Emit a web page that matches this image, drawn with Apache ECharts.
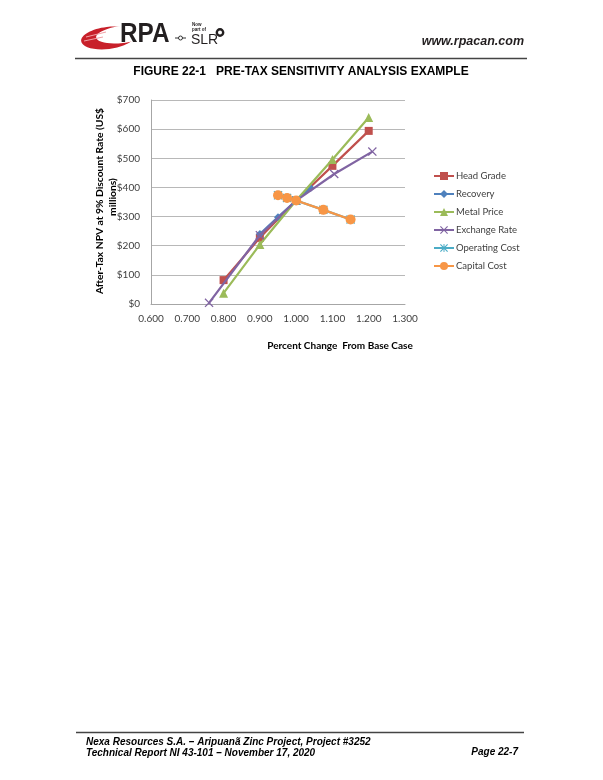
<!DOCTYPE html>
<html><head><meta charset="utf-8">
<script src="https://cdn.jsdelivr.net/npm/echarts@6/dist/echarts.min.js"></script>
<style>html,body{margin:0;padding:0;background:#fff}#c{width:603px;height:780px}</style>
</head><body><div id="c"></div>
<script>
const seriesNames = ['Head Grade','Recovery','Metal Price','Exchange Rate','Operating Cost','Capital Cost'];
const headGrade = [[0.8,82],[0.9,227],[1.0,355],[1.1,474],[1.2,594]];
const recovery = [[0.9,240],[0.95,298],[1.0,355],[1.04,398]];
const metalPrice = [[0.8,37],[0.9,204],[1.0,355],[1.1,496],[1.2,640]];
const exchangeRate = [[0.76,4],[0.9,236],[1.0,355],[1.105,446],[1.21,523]];
const operatingCost = [[0.95,373],[0.975,364],[1.0,355],[1.075,323],[1.15,290]];
const capitalCost = [[0.95,373],[0.975,364],[1.0,355],[1.075,323],[1.15,290]];
const xTicks = {min:0.6,max:1.3,step:0.1};
const yTicks = {min:0,max:700,step:100};

const colors = ['#C0504D','#4F81BD','#9BBB59','#8064A2','#4BACC6','#F79646'];
const xSym = 'path://M1,0 L5,4 L9,0 L10,1 L6,5 L10,9 L9,10 L5,6 L1,10 L0,9 L4,5 L0,1 Z';
const astSym = 'path://M1,0 L5,4 L9,0 L10,1 L6,5 L10,9 L9,10 L5,6 L1,10 L0,9 L4,5 L0,1 Z M4.4,0 L5.6,0 L5.6,10 L4.4,10 Z';
const datas = [headGrade,recovery,metalPrice,exchangeRate,operatingCost,capitalCost];
const syms = ['rect','diamond','triangle',xSym,astSym,'circle'];
const symSizes = [8,8,9,9,9,10];
const font = 'Lato, "Open Sans", sans-serif';
const arial = '"Liberation Sans", Arial, sans-serif';

const chart = echarts.init(document.getElementById('c'));
chart.setOption({
  animation:false,
  color: colors,
  grid:{left:151,right:198,top:100,bottom:476,containLabel:false},
  xAxis:{type:'value',min:xTicks.min,max:xTicks.max,interval:xTicks.step,
    axisLine:{show:true,lineStyle:{color:'#a6a6a6'}},axisTick:{show:false},
    splitLine:{show:false},
    axisLabel:{formatter:v=>v.toFixed(3),color:'#404040',fontSize:10,fontFamily:font,margin:10}},
  yAxis:{type:'value',min:yTicks.min,max:yTicks.max,interval:yTicks.step,
    axisLine:{show:true,lineStyle:{color:'#a6a6a6'}},axisTick:{show:false},
    splitLine:{show:true,lineStyle:{color:'#b8b8b8',width:1}},
    axisLabel:{formatter:v=>'$'+v,color:'#404040',fontSize:10,fontFamily:font,margin:11}},
  legend:{orient:'vertical',left:428,top:166,itemGap:8,itemWidth:20,itemHeight:10,
    data:seriesNames,textStyle:{fontSize:9.5,fontFamily:font,color:'#404040',padding:[0,0,0,-3]}},
  series: seriesNames.map((n,i)=>({name:n,type:'line',data:datas[i],symbol:syms[i],symbolSize:symSizes[i],
    showAllSymbol:true,lineStyle:{width:2.2,color:colors[i]},itemStyle:{color:colors[i]},z:2+i})),
  graphic:[
    {type:'text',x:100,y:201,rotation:Math.PI/2,style:{text:'After-Tax NPV at 9% Discount Rate (US$',font:'bold 10.3px '+font,fill:'#000',textAlign:'center',textVerticalAlign:'middle'}},
    {type:'text',x:112.5,y:197,rotation:Math.PI/2,style:{text:'millions)',font:'bold 10.3px '+font,fill:'#000',textAlign:'center',textVerticalAlign:'middle'}},
    {type:'text',x:340,y:346,style:{text:'Percent Change  From Base Case',font:'bold 10px '+font,fill:'#000',textAlign:'center',textVerticalAlign:'middle'}},
    // header logo
    {type:'ellipse',shape:{cx:108,cy:38,rx:27,ry:11},rotation:0.12,originX:108,originY:38,style:{fill:'#c8202a'}},
    {type:'ellipse',shape:{cx:122,cy:34.5,rx:26,ry:8.5},rotation:0.12,originX:122,originY:34.5,style:{fill:'#fff'}},
    {type:'line',shape:{x1:86,y1:37,x2:106,y2:32},style:{stroke:'#f0a0a4',lineWidth:1}},
    {type:'line',shape:{x1:84,y1:41,x2:103,y2:37},style:{stroke:'#f0a0a4',lineWidth:1}},
    {type:'text',x:120,y:35,scaleX:0.9,originX:0,originY:0,style:{text:'RPA',font:'bold 27px '+arial,fill:'#231f20',textVerticalAlign:'middle'}},
    {type:'line',shape:{x1:175,y1:38,x2:186,y2:38},style:{stroke:'#333',lineWidth:1}},
    {type:'circle',shape:{cx:180.5,cy:38,r:2},style:{fill:'#fff',stroke:'#333',lineWidth:1}},
    {type:'text',x:192,y:23,style:{text:'Now\npart of',font:'bold 4.5px sans-serif',fill:'#231f20',lineHeight:4.5}},
    {type:'text',x:191,y:40,style:{text:'SLR',font:'14px '+arial,fill:'#231f20',textVerticalAlign:'middle'}},
    {type:'circle',shape:{cx:220,cy:32.5,r:3.2},style:{fill:'#fff',stroke:'#231f20',lineWidth:2.4}},
    {type:'text',x:524,y:42,style:{text:'www.rpacan.com',font:'italic bold 12.5px '+arial,fill:'#231f20',textAlign:'right',textVerticalAlign:'middle'}},
    {type:'line',shape:{x1:75,y1:58.5,x2:527,y2:58.5},style:{stroke:'#444',lineWidth:1.5}},
    {type:'text',x:301,y:72,style:{text:'FIGURE 22-1   PRE-TAX SENSITIVITY ANALYSIS EXAMPLE',font:'bold 12px '+arial,fill:'#000',textAlign:'center',textVerticalAlign:'middle'}},
    // footer
    {type:'line',shape:{x1:76,y1:732.5,x2:524,y2:732.5},style:{stroke:'#444',lineWidth:1.5}},
    {type:'text',x:86,y:742,style:{text:'Nexa Resources S.A. – Aripuanã Zinc Project, Project #3252',font:'italic bold 10px '+arial,fill:'#000',textVerticalAlign:'middle'}},
    {type:'text',x:86,y:753,style:{text:'Technical Report NI 43-101 – November 17, 2020',font:'italic bold 10px '+arial,fill:'#000',textVerticalAlign:'middle'}},
    {type:'text',x:518,y:752,style:{text:'Page 22-7',font:'italic bold 10px '+arial,fill:'#000',textAlign:'right',textVerticalAlign:'middle'}}
  ]
});
</script></body></html>
